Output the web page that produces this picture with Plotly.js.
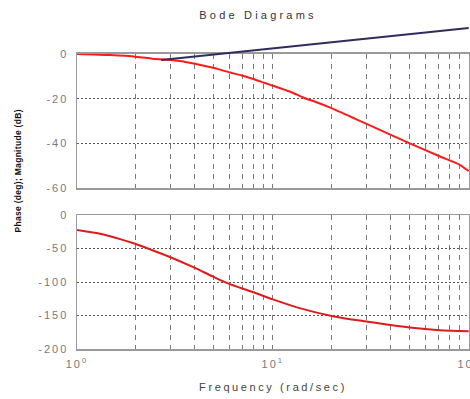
<!DOCTYPE html>
<html>
<head>
<meta charset="utf-8">
<script src="https://cdn.plot.ly/plotly-3.0.1.min.js"></script>
<style>
  html, body { margin: 0; padding: 0; background: #fff; }
  #chart { width: 470px; height: 399px; }
  .xtick text, .ytick text, .x2tick text, .y2tick text { letter-spacing: 2px; }
  .gtitle { letter-spacing: 3.2px; }
  .g-x2title text { letter-spacing: 2.6px; }
  .annotation-text { letter-spacing: 0.3px; }
</style>
</head>
<body>
<div id="chart"></div>
<script>
// ---- data ----
const magFreq = [1, 1.48, 2.03, 2.42, 3.0, 3.36, 4.0, 5.07, 6.04, 6.93, 7.94, 9.1, 10, 12.2, 14.5, 16.7, 19.5, 26.2, 30.1, 50, 71, 90, 100];
const magDb   = [0, -0.5, -1.3, -2.1, -2.7, -3.1, -4.4, -6.4, -8.3, -9.6, -11.2, -13.0, -14.2, -16.8, -19.7, -21.6, -23.9, -28.9, -31.3, -40, -45.8, -49.6, -52.4];

const phaseFreq = [1, 1.31, 1.66, 1.98, 2.4, 3.0, 4.0, 4.95, 5.9, 7.9, 10, 13.7, 20.2, 30, 50, 71, 100];
const phaseDeg  = [-22.4, -28, -36, -43, -52, -63, -79, -92, -102, -115, -126, -139, -151, -159, -168, -172, -173.5];

const lineFreq = [2.69, 100];
const lineDb   = [-2.7, 11.6];

const xTickVals = [1,2,3,4,5,6,7,8,9,10,20,30,40,50,60,70,80,90,100];
const xTickText = ['10<sup>0</sup>','','','','','','','','','10<sup>1</sup>','','','','','','','','','10<sup>2</sup>'];
const magTicks = [0, -20, -40, -60];
const magTickText = ['0', '-20', '-40', '-60'];
const phaseTicks = [0, -50, -100, -150, -200];
const phaseTickText = ['0', '-50', '-100', '-150', '-200'];

const titleText = 'Bode Diagrams';
const xTitleText = 'Frequency (rad/sec)';
const yTitleText = 'Phase (deg); Magnitude (dB)';

// ---- styling ----
const FONT = '"Liberation Sans Narrow", "Arial Narrow", "Liberation Sans", Arial, sans-serif';
const frame = '#9a9a9a';
const tickFont = {family: FONT, size: 11, color: '#7a7a7a'};
const XR = [0, 2.0015];

const xCommon = {
  type: 'log', range: XR, domain: [0, 1],
  tickmode: 'array', tickvals: xTickVals, ticktext: xTickText,
  showgrid: true, gridcolor: '#7a7a7a', gridwidth: 1, griddash: '5px,5px',
  showline: true, linecolor: frame, linewidth: 1.5, mirror: true,
  ticks: '', zeroline: false, tickfont: tickFont, ticklabeloverflow: 'allow'
};
const yCommon = {
  showgrid: true, gridcolor: '#555', gridwidth: 1, griddash: '2px,2px',
  showline: true, linecolor: frame, linewidth: 1.5, mirror: true,
  ticks: '', zeroline: false, tickfont: tickFont, tickmode: 'array',
  ticklabelstandoff: 5
};

const traces = [
  {x: magFreq, y: magDb, xaxis: 'x', yaxis: 'y', type: 'scatter', mode: 'lines',
   line: {color: '#ff1a1a', width: 2, shape: 'spline', smoothing: 0.6}, cliponaxis: false, hoverinfo: 'skip'},
  {x: phaseFreq, y: phaseDeg, xaxis: 'x2', yaxis: 'y2', type: 'scatter', mode: 'lines',
   line: {color: '#e01b1b', width: 2, shape: 'spline', smoothing: 0.8}, hoverinfo: 'skip'},
  {x: lineFreq, y: lineDb, xaxis: 'x3', yaxis: 'y3', type: 'scatter', mode: 'lines',
   line: {color: '#2e2e5e', width: 2}, hoverinfo: 'skip'}
];

const layout = {
  width: 470, height: 399,
  margin: {l: 77, r: 1, t: 20, b: 50},
  paper_bgcolor: '#ffffff', plot_bgcolor: 'rgba(0,0,0,0)',
  showlegend: false,
  title: {text: titleText, x: 0.549, xanchor: 'center', y: 0.962, yanchor: 'middle',
          xref: 'container', yref: 'container',
          font: {family: FONT, size: 11, color: '#333'}},
  xaxis: Object.assign({}, xCommon, {anchor: 'y', showticklabels: false}),
  yaxis: Object.assign({}, yCommon, {domain: [0.48936, 0.89666], range: [-60, 0],
          tickvals: magTicks, ticktext: magTickText, anchor: 'x'}),
  xaxis2: Object.assign({}, xCommon, {anchor: 'y2', ticklabelstandoff: 4,
          title: {text: xTitleText, standoff: 14, font: {family: FONT, size: 11, color: '#444'}}}),
  yaxis2: Object.assign({}, yCommon, {domain: [0, 0.40729], range: [-200, 0],
          tickvals: phaseTicks, ticktext: phaseTickText, anchor: 'x2'}),
  xaxis3: {type: 'log', range: XR, domain: [0, 1], visible: false, anchor: 'y3'},
  yaxis3: {range: [-60, 15.22], domain: [0.48936, 1], visible: false, anchor: 'x3'},
  annotations: [
    {text: '<b>' + yTitleText + '</b>', xref: 'paper', yref: 'paper',
     x: -0.15, y: 0.54, xanchor: 'center', yanchor: 'middle', textangle: -90,
     showarrow: false, font: {family: FONT, size: 8.5, color: '#111'}}
  ]
};

Plotly.newPlot('chart', traces, layout, {staticPlot: true, displayModeBar: false});
</script>
</body>
</html>
